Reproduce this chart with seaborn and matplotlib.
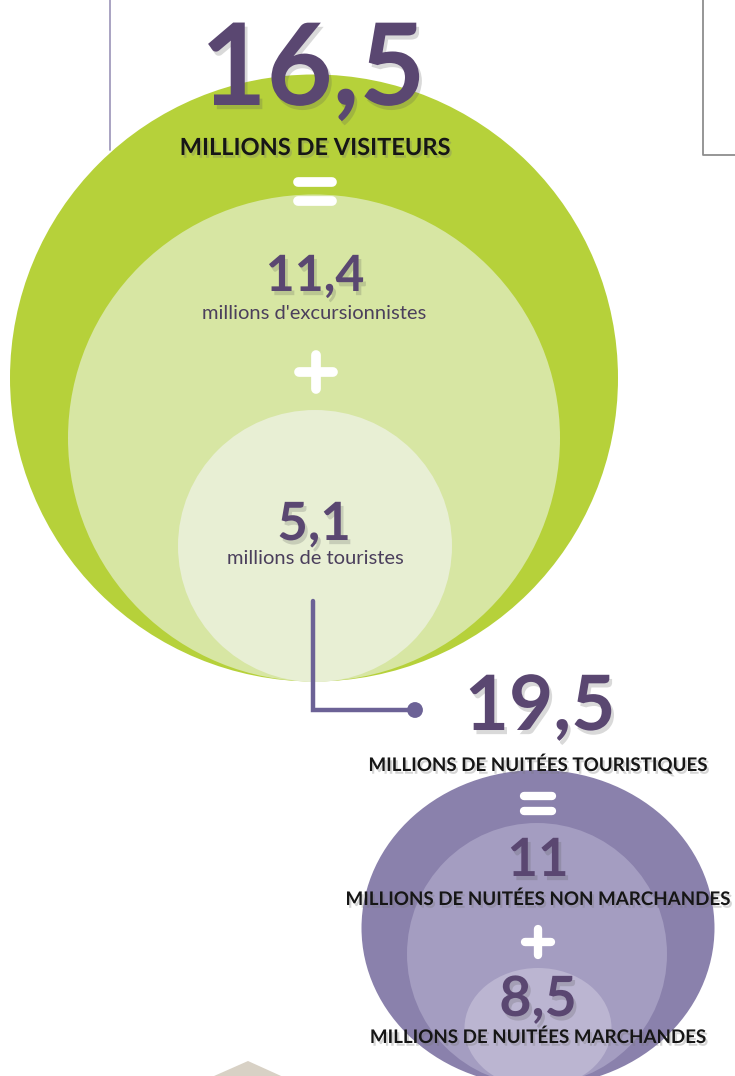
import numpy as np
import pandas as pd
import matplotlib
matplotlib.use("Agg")
import matplotlib.pyplot as plt
import matplotlib.patheffects as pe
from matplotlib.patches import Ellipse, Polygon
import seaborn as sns

# Values of the infographic (millions)
visiteurs_values = [16.5, 11.4, 5.1]
visiteurs_labels = ["MILLIONS DE VISITEURS", "millions d'excursionnistes", "millions de touristes"]
nuitees_values = [19.5, 11, 8.5]
nuitees_labels = ["MILLIONS DE NUITÉES TOURISTIQUES", "MILLIONS DE NUITÉES NON MARCHANDES",
                  "MILLIONS DE NUITÉES MARCHANDES"]

# Layout (pixel space): nested ellipses, outer to inner
green_cx = [314, 314, 315]
green_cy = [378, 438, 546]
green_w = [608, 492, 274]
green_h = [607, 487, 272]
green_colors = ["#b6d13a", "#d7e6a3", "#e8efd4"]

purple_cx = [538, 537, 538]
purple_cy = [928, 954, 1028]
purple_w = [353, 260, 147]
purple_h = [316, 262, 120]
purple_colors = ["#8a81ac", "#a49dc1", "#bbb5d1"]

num_color = "#5a4771"
lab_color = "#161616"


def fr(v):
    return f"{v:g}".replace(".", ",")


sns.set_theme(style="white")
plt.rcParams["font.family"] = ["Lato", "DejaVu Sans"]

fig = plt.figure(figsize=(7.35, 10.76), dpi=100)
ax = fig.add_axes([0, 0, 1, 1])
ax.set_xlim(0, 735)
ax.set_ylim(1076, 0)
ax.axis("off")

# frame lines at the top
ax.plot([110, 110], [0, 150], color="#a29cbd", lw=1.3, zorder=1)
ax.plot([703, 703, 735], [0, 155, 155], color="#8e8e8e", lw=1.3, zorder=1)

# small beige shape at the bottom left
ax.add_patch(Polygon([[205, 1080], [248, 1061], [290, 1080]], closed=True,
                     facecolor="#d8d1c5", edgecolor="none", zorder=1))

for cx, cy, w, h, c in zip(green_cx, green_cy, green_w, green_h, green_colors):
    ax.add_patch(Ellipse((cx, cy), w, h, facecolor=c, edgecolor="none", zorder=2))
for cx, cy, w, h, c in zip(purple_cx, purple_cy, purple_w, purple_h, purple_colors):
    ax.add_patch(Ellipse((cx, cy), w, h, facecolor=c, edgecolor="none", zorder=2))

shadow = [pe.withSimplePatchShadow(offset=(2, -3), shadow_rgbFace="#555555", alpha=0.22)]
lab_shadow = [pe.withSimplePatchShadow(offset=(1.5, -2), shadow_rgbFace="#777777", alpha=0.3)]

# white operator signs
def equal_sign(x, y, half, gap, lw):
    ax.plot([x - half, x + half], [y - gap, y - gap], color="white", lw=lw,
            solid_capstyle="round", zorder=4)
    ax.plot([x - half, x + half], [y + gap, y + gap], color="white", lw=lw,
            solid_capstyle="round", zorder=4)


def plus_sign(x, y, half, lw):
    ax.plot([x - half, x + half], [y, y], color="white", lw=lw, solid_capstyle="round", zorder=4)
    ax.plot([x, x], [y - half, y + half], color="white", lw=lw, solid_capstyle="round", zorder=4)


equal_sign(315, 191, 17, 9.5, 7)
plus_sign(316, 372, 17, 7)
equal_sign(538, 803, 14, 7.5, 6)
plus_sign(538, 942, 13, 6)

# green block texts
ax.text(313, 105, fr(visiteurs_values[0]), ha="center", va="baseline", fontsize=82,
        fontweight="bold", color=num_color, path_effects=shadow, zorder=5)
ax.text(315, 155, visiteurs_labels[0], ha="center", va="baseline", fontsize=17,
        fontweight="bold", color=lab_color, path_effects=lab_shadow, zorder=5)
ax.text(315, 291, fr(visiteurs_values[1]), ha="center", va="baseline", fontsize=36,
        fontweight="bold", color=num_color, path_effects=shadow, zorder=5)
ax.text(314, 319, visiteurs_labels[1], ha="center", va="baseline", fontsize=14.5,
        color="#4b3f5c", zorder=5)
ax.text(314, 540, fr(visiteurs_values[2]), ha="center", va="baseline", fontsize=38,
        fontweight="bold", color=num_color, path_effects=shadow, zorder=5)
ax.text(315, 564, visiteurs_labels[2], ha="center", va="baseline", fontsize=14.5,
        color="#4b3f5c", zorder=5)

# connector
ax.plot([313, 313, 413], [601, 710, 710], color="#6c6296", lw=3.2, zorder=5,
        solid_joinstyle="miter")
dot = pd.DataFrame({"x": [415], "y": [710]})
sns.scatterplot(data=dot, x="x", y="y", s=130, color="#6c6296", edgecolor="none", ax=ax,
                zorder=6)
ax.set_xlim(0, 735)
ax.set_ylim(1076, 0)
ax.axis("off")

# purple block texts
ax.text(540, 730, fr(nuitees_values[0]), ha="center", va="baseline", fontsize=55,
        fontweight="bold", color=num_color, path_effects=shadow, zorder=5)
ax.text(538, 771, nuitees_labels[0], ha="center", va="baseline", fontsize=13.5,
        fontweight="bold", color=lab_color, path_effects=lab_shadow, zorder=5)
ax.text(538, 876, fr(nuitees_values[1]), ha="center", va="baseline", fontsize=38,
        fontweight="bold", color=num_color, path_effects=shadow, zorder=5)
ax.text(538, 905, nuitees_labels[1], ha="center", va="baseline", fontsize=13.5,
        fontweight="bold", color=lab_color, path_effects=lab_shadow, zorder=5)
ax.text(538, 1016, fr(nuitees_values[2]), ha="center", va="baseline", fontsize=40,
        fontweight="bold", color=num_color, path_effects=shadow, zorder=5)
ax.text(538, 1043, nuitees_labels[2], ha="center", va="baseline", fontsize=13.5,
        fontweight="bold", color=lab_color, path_effects=lab_shadow, zorder=5)

fig.savefig("out.png", dpi=100)
